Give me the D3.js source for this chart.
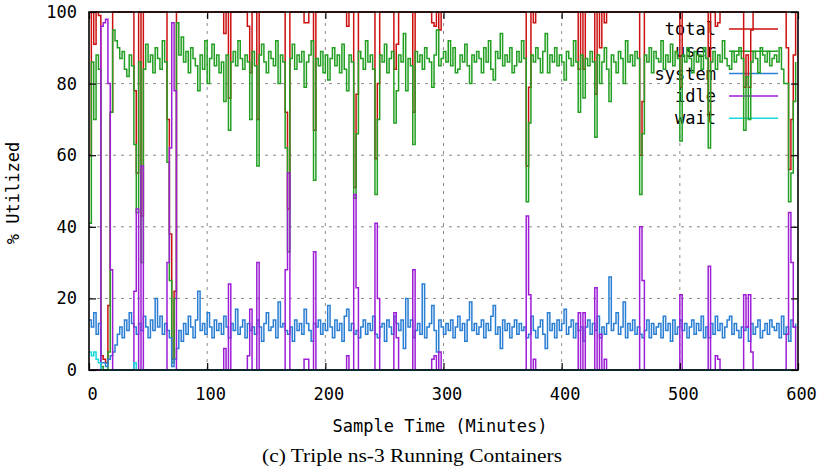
<!DOCTYPE html>
<html>
<head>
<meta charset="utf-8">
<script src="https://cdn.jsdelivr.net/npm/d3@7"></script>
<style>
body { margin: 0; background: #fff; }
</style>
</head>
<body>
<svg id="chart" width="821" height="471"></svg>
<script>
// sample every 2 minutes, 0..598
let sampleStep = 2
let times = d3.range(0, 600, sampleStep)

let total = [
  60, 100, 91, 100, 99, 4, 3, 2, 18, 72,
  100, 100, 100, 100, 100, 100, 100, 100, 100, 78,
  55, 100, 43, 100, 100, 100, 100, 100, 100, 100,
  100, 100, 100, 70, 38, 3, 22, 100, 100, 100,
  100, 100, 100, 100, 100, 100, 100, 100, 100, 100,
  100, 100, 100, 100, 100, 100, 100, 94, 100, 76,
  100, 100, 100, 100, 100, 100, 100, 96, 83, 100,
  100, 70, 100, 100, 100, 100, 100, 100, 100, 100,
  100, 100, 100, 72, 45, 100, 100, 100, 100, 100,
  100, 97, 97, 100, 100, 67, 100, 100, 100, 100,
  100, 100, 100, 100, 100, 100, 100, 100, 100, 96,
  100, 100, 51, 77, 100, 100, 100, 100, 100, 100,
  100, 59, 80, 100, 100, 100, 100, 100, 100, 84,
  91, 100, 100, 100, 100, 100, 100, 72, 100, 100,
  100, 100, 100, 100, 100, 97, 96, 100, 95, 100,
  100, 100, 100, 100, 100, 100, 100, 100, 100, 100,
  100, 100, 100, 100, 100, 100, 100, 100, 100, 100,
  100, 100, 100, 100, 100, 100, 100, 100, 100, 100,
  100, 100, 100, 100, 100, 57, 79, 100, 97, 100,
  100, 100, 100, 100, 100, 100, 100, 100, 100, 100,
  100, 100, 100, 100, 100, 100, 100, 84, 100, 84,
  100, 100, 100, 100, 77, 100, 90, 100, 97, 100,
  100, 100, 100, 100, 100, 100, 100, 100, 100, 100,
  100, 100, 100, 60, 75, 100, 100, 100, 100, 100,
  100, 100, 100, 100, 100, 100, 100, 100, 100, 100,
  79, 100, 100, 100, 100, 100, 100, 100, 100, 100,
  100, 100, 71, 100, 100, 96, 97, 100, 100, 100,
  100, 100, 100, 100, 100, 100, 100, 79, 88, 79,
  95, 100, 100, 100, 100, 100, 100, 100, 100, 100,
  100, 100, 100, 100, 100, 90, 56, 70, 88, 100
]

let user = [
  41, 86, 70, 88, 84, 1, 0, 0, 5, 72,
  95, 92, 90, 87, 89, 84, 82, 88, 85, 63,
  44, 86, 30, 84, 91, 86, 88, 83, 90, 87,
  84, 92, 86, 58, 25, 2, 20, 97, 88, 93,
  86, 89, 83, 90, 87, 85, 78, 88, 84, 92,
  80, 87, 91, 85, 88, 83, 86, 75, 88, 67,
  86, 89, 85, 92, 87, 84, 88, 86, 70, 89,
  85, 57, 88, 91, 86, 83, 89, 87, 85, 92,
  80, 88, 86, 62, 33, 87, 91, 84, 88, 86,
  89, 79, 86, 88, 92, 53, 87, 85, 89, 83,
  88, 81, 87, 90, 85, 88, 83, 91, 84, 78,
  88, 86, 48, 66, 89, 87, 84, 92, 86, 88,
  84, 49, 70, 88, 86, 91, 83, 87, 89, 69,
  78, 88, 86, 94, 78, 87, 85, 63, 89, 86,
  88, 84, 90, 87, 86, 79, 88, 95, 85, 87,
  89, 86, 92, 85, 90, 83, 84, 88, 86, 91,
  85, 80, 88, 86, 89, 87, 83, 90, 86, 92,
  84, 81, 89, 87, 94, 85, 88, 86, 90, 83,
  85, 89, 86, 92, 87, 47, 69, 88, 86, 90,
  87, 83, 89, 94, 83, 88, 86, 90, 85, 88,
  86, 81, 89, 87, 85, 92, 86, 72, 88, 76,
  87, 85, 89, 86, 65, 88, 80, 86, 90, 84,
  75, 88, 86, 83, 89, 87, 80, 92, 86, 88,
  85, 89, 87, 49, 66, 88, 86, 90, 83, 89,
  87, 86, 92, 84, 88, 86, 91, 85, 89, 87,
  64, 88, 86, 90, 87, 83, 89, 86, 88, 84,
  90, 87, 62, 86, 89, 84, 88, 86, 92, 87,
  85, 84, 89, 86, 88, 90, 87, 67, 82, 70,
  86, 89, 87, 83, 90, 88, 86, 89, 85, 87,
  88, 86, 90, 84, 80, 80, 47, 55, 75, 86
]

let system = [
  14, 12, 16, 10, 13, 2, 2, 1, 3, 4,
  5, 7, 10, 12, 9, 14, 11, 16, 13, 12,
  10, 13, 11, 15, 12, 9, 14, 11, 20, 12,
  15, 10, 13, 11, 9, 1, 3, 6, 11, 8,
  13, 10, 15, 12, 9, 14, 22, 11, 13, 10,
  16, 12, 9, 14, 11, 13, 10, 15, 12, 9,
  13, 11, 17, 10, 12, 14, 9, 13, 11, 12,
  10, 14, 12, 8, 13, 16, 11, 12, 14, 9,
  19, 12, 13, 11, 10, 12, 8, 14, 11, 13,
  10, 17, 13, 11, 8, 13, 12, 14, 10, 13,
  11, 18, 12, 9, 14, 11, 13, 8, 15, 17,
  11, 13, 10, 11, 9, 12, 14, 10, 13, 11,
  15, 10, 9, 12, 13, 8, 14, 12, 10, 15,
  13, 11, 14, 6, 20, 12, 14, 9, 11, 13,
  10, 24, 9, 12, 13, 18, 11, 5, 14, 12,
  10, 13, 11, 14, 9, 12, 15, 11, 13, 8,
  14, 19, 11, 13, 10, 12, 14, 9, 13, 11,
  15, 18, 10, 12, 6, 14, 11, 13, 9, 12,
  14, 10, 13, 11, 12, 9, 10, 15, 11, 9,
  12, 14, 10, 6, 16, 11, 13, 9, 14, 11,
  13, 17, 10, 12, 14, 9, 13, 11, 12, 8,
  12, 14, 10, 13, 11, 15, 9, 12, 10, 13,
  26, 11, 13, 16, 10, 12, 19, 9, 13, 11,
  14, 10, 12, 10, 9, 11, 14, 9, 13, 10,
  12, 13, 9, 15, 11, 13, 8, 14, 10, 12,
  14, 11, 13, 9, 12, 14, 10, 13, 11, 15,
  9, 12, 9, 13, 10, 15, 11, 13, 9, 12,
  14, 15, 10, 13, 11, 9, 12, 11, 12, 8,
  13, 10, 12, 14, 9, 11, 13, 10, 14, 12,
  11, 13, 9, 15, 10, 12, 8, 14, 12, 13
]

let idle = [
  0, 0, 0, 0, 0, 96, 97, 98, 80, 28,
  0, 0, 0, 0, 0, 0, 0, 0, 0, 22,
  45, 0, 57, 0, 0, 0, 0, 0, 0, 0,
  0, 0, 0, 30, 62, 97, 78, 0, 0, 0,
  0, 0, 0, 0, 0, 0, 0, 0, 0, 0,
  0, 0, 0, 0, 0, 0, 0, 6, 0, 24,
  0, 0, 0, 0, 0, 0, 0, 4, 17, 0,
  0, 30, 0, 0, 0, 0, 0, 0, 0, 0,
  0, 0, 0, 28, 55, 0, 0, 0, 0, 0,
  0, 3, 3, 0, 0, 33, 0, 0, 0, 0,
  0, 0, 0, 0, 0, 0, 0, 0, 0, 4,
  0, 0, 49, 23, 0, 0, 0, 0, 0, 0,
  0, 41, 20, 0, 0, 0, 0, 0, 0, 16,
  9, 0, 0, 0, 0, 0, 0, 28, 0, 0,
  0, 0, 0, 0, 0, 3, 4, 0, 5, 0,
  0, 0, 0, 0, 0, 0, 0, 0, 0, 0,
  0, 0, 0, 0, 0, 0, 0, 0, 0, 0,
  0, 0, 0, 0, 0, 0, 0, 0, 0, 0,
  0, 0, 0, 0, 0, 43, 21, 0, 3, 0,
  0, 0, 0, 0, 0, 0, 0, 0, 0, 0,
  0, 0, 0, 0, 0, 0, 0, 16, 0, 16,
  0, 0, 0, 0, 23, 0, 10, 0, 3, 0,
  0, 0, 0, 0, 0, 0, 0, 0, 0, 0,
  0, 0, 0, 40, 25, 0, 0, 0, 0, 0,
  0, 0, 0, 0, 0, 0, 0, 0, 0, 0,
  21, 0, 0, 0, 0, 0, 0, 0, 0, 0,
  0, 0, 29, 0, 0, 4, 3, 0, 0, 0,
  0, 0, 0, 0, 0, 0, 0, 21, 12, 21,
  5, 0, 0, 0, 0, 0, 0, 0, 0, 0,
  0, 0, 0, 0, 0, 10, 44, 30, 12, 0
]

let wait = [
  5, 4, 5, 3, 2, 0, 0, 0, 0, 0,
  0, 0, 0, 0, 0, 0, 0, 0, 0, 2,
  0, 0, 0, 0, 0, 0, 0, 0, 0, 0,
  0, 0, 0, 0, 0, 0, 0, 0, 0, 0,
  0, 0, 0, 0, 0, 0, 0, 0, 0, 0,
  0, 0, 0, 0, 0, 0, 0, 0, 0, 0,
  0, 0, 0, 0, 0, 0, 0, 0, 0, 0,
  0, 0, 0, 0, 0, 0, 0, 0, 0, 0,
  0, 0, 0, 0, 0, 0, 0, 0, 0, 0,
  0, 0, 0, 0, 0, 0, 0, 0, 0, 0,
  0, 0, 0, 0, 0, 0, 0, 0, 0, 0,
  0, 0, 0, 0, 0, 0, 0, 0, 0, 0,
  0, 0, 0, 0, 0, 0, 0, 0, 0, 0,
  0, 0, 0, 0, 0, 0, 0, 0, 0, 0,
  0, 0, 0, 0, 0, 0, 0, 0, 0, 0,
  0, 0, 0, 0, 0, 0, 0, 0, 0, 0,
  0, 0, 0, 0, 0, 0, 0, 0, 0, 0,
  0, 0, 0, 0, 0, 0, 0, 0, 0, 0,
  0, 0, 0, 0, 0, 0, 0, 0, 0, 0,
  0, 0, 0, 0, 0, 0, 0, 0, 0, 0,
  0, 0, 0, 0, 0, 0, 0, 0, 0, 0,
  0, 0, 0, 0, 0, 0, 0, 0, 0, 0,
  0, 0, 0, 0, 0, 0, 0, 0, 0, 0,
  0, 0, 0, 0, 0, 0, 0, 0, 0, 0,
  0, 0, 0, 0, 0, 0, 0, 0, 0, 0,
  0, 0, 0, 0, 0, 0, 0, 0, 0, 0,
  0, 0, 0, 0, 0, 0, 0, 0, 0, 0,
  0, 0, 0, 0, 0, 0, 0, 0, 0, 0,
  0, 0, 0, 0, 0, 0, 0, 0, 0, 0,
  0, 0, 0, 0, 0, 0, 0, 0, 0, 0
]

let seriesNames = ['total', 'user', 'system', 'idle', 'wait']
let seriesColors = ['#cc1010', '#23a023', '#2a7fd4', '#9e1ed6', '#18dada']
let xTicks = [0, 100, 200, 300, 400, 500, 600]
let yTicks = [0, 20, 40, 60, 80, 100]
let xTitle = 'Sample Time (Minutes)'
let yTitle = '% Utilized'
let caption = '(c) Triple ns-3 Running Containers'

let monoFont = '"DejaVu Sans Mono", "Liberation Mono", monospace'
let plot = { left: 89, right: 798, top: 12, bottom: 370 }

let svg = d3.select('#chart')
svg.append('rect').attr('width', 821).attr('height', 471).style('fill', '#fff')

let xscale = d3.scaleLinear().domain([0, 600]).range([plot.left, plot.right])
let yscale = d3.scaleLinear().domain([0, 100]).range([plot.bottom, plot.top])

// grid
let grid = svg.append('g').attr('class', 'grid')
xTicks.slice(1, -1).forEach((d) => {
    grid.append('line')
        .attr('x1', xscale(d)).attr('x2', xscale(d))
        .attr('y1', yscale(0)).attr('y2', yscale(100))
})
yTicks.slice(1, -1).forEach((d) => {
    grid.append('line')
        .attr('x1', xscale(0)).attr('x2', xscale(600))
        .attr('y1', yscale(d)).attr('y2', yscale(d))
})
grid.selectAll('line')
    .style('stroke', '#8a8a8a')
    .style('stroke-width', 1)
    .style('stroke-dasharray', '3,5')

// key, drawn under the data like gnuplot does
let key = svg.append('g').attr('class', 'key')
seriesNames.forEach((name, i) => {
    let ky = 29 + i * 22.3
    key.append('text')
        .attr('x', 716).attr('y', ky + 6)
        .attr('text-anchor', 'end')
        .style('font-family', monoFont)
        .style('font-size', '17px')
        .style('fill', '#000')
        .text(name)
    key.append('line')
        .attr('x1', 729).attr('x2', 778)
        .attr('y1', ky).attr('y2', ky)
        .style('stroke', seriesColors[i])
        .style('stroke-width', 1.5)
})

// data
let allSeries = [total, user, system, idle, wait]
let line = d3.line()
    .x((d, i) => xscale(times[i]))
    .y((d) => yscale(d))
    .curve(d3.curveStepAfter)

allSeries.forEach((values, i) => {
    svg.append('path')
        .attr('class', 'series ' + seriesNames[i])
        .attr('d', line(values))
        .style('fill', 'none')
        .style('stroke', seriesColors[i])
        .style('stroke-width', 1.5)
})

// axes: ticks point inward on all four sides
let styleAxis = (g) => {
    g.select('.domain').remove()
    g.selectAll('line').style('stroke', '#000').style('stroke-width', 1.2)
    g.selectAll('text')
        .style('font-family', monoFont)
        .style('font-size', '17px')
        .style('fill', '#000')
}

svg.append('g')
    .attr('transform', `translate(0,${plot.bottom})`)
    .call(d3.axisBottom(xscale).tickValues(xTicks).tickSizeInner(-7).tickSizeOuter(0).tickPadding(18))
    .call(styleAxis)
    .selectAll('text').attr('dx', 3)

svg.append('g')
    .attr('transform', `translate(${plot.left},0)`)
    .call(d3.axisLeft(yscale).tickValues(yTicks).tickSizeInner(-7).tickSizeOuter(0).tickPadding(12))
    .call(styleAxis)

svg.append('g')
    .attr('transform', `translate(0,${plot.top})`)
    .call(d3.axisTop(xscale).tickValues(xTicks).tickSizeInner(-7).tickSizeOuter(0).tickFormat(''))
    .call(styleAxis)

svg.append('g')
    .attr('transform', `translate(${plot.right},0)`)
    .call(d3.axisRight(yscale).tickValues(yTicks).tickSizeInner(-7).tickSizeOuter(0).tickFormat(''))
    .call(styleAxis)

svg.append('rect')
    .attr('x', plot.left).attr('y', plot.top)
    .attr('width', plot.right - plot.left)
    .attr('height', plot.bottom - plot.top)
    .style('fill', 'none')
    .style('stroke', '#000')
    .style('stroke-width', 1.6)

// titles
svg.append('text')
    .attr('x', 440).attr('y', 432)
    .attr('text-anchor', 'middle')
    .style('font-family', monoFont)
    .style('font-size', '17px')
    .text(xTitle)

svg.append('text')
    .attr('transform', 'translate(19,193) rotate(-90)')
    .attr('text-anchor', 'middle')
    .style('font-family', monoFont)
    .style('font-size', '17px')
    .text(yTitle)

svg.append('text')
    .attr('x', 412).attr('y', 462)
    .attr('text-anchor', 'middle')
    .attr('textLength', 300)
    .attr('lengthAdjust', 'spacingAndGlyphs')
    .style('font-family', '"Liberation Serif", "DejaVu Serif", serif')
    .style('font-size', '19px')
    .text(caption)
</script>
</body>
</html>
